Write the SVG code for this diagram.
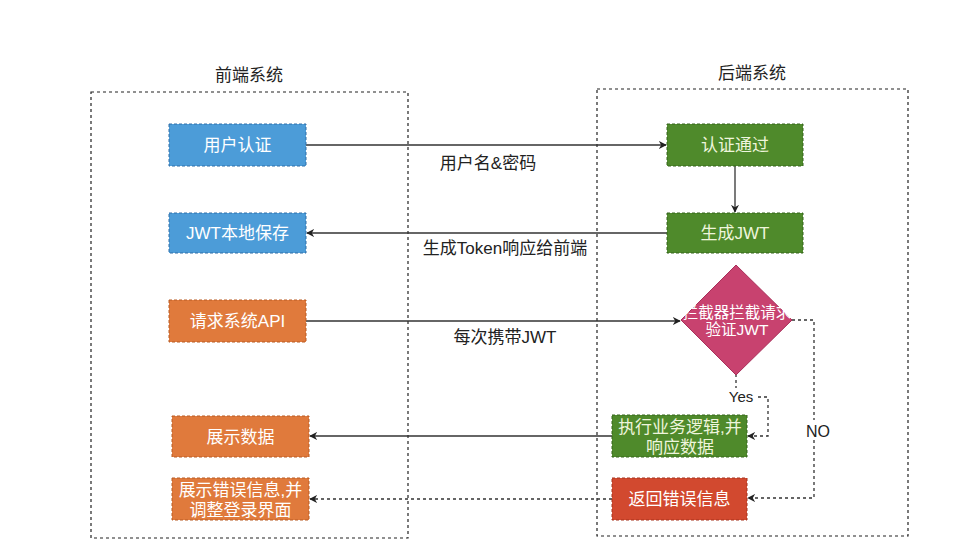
<svg xmlns="http://www.w3.org/2000/svg" width="953" height="545" viewBox="0 0 953 545">
<defs>
<style>
text{font-family:"Liberation Sans","Noto Sans CJK SC",sans-serif;}
.cont{fill:none;stroke:#222;stroke-width:1.2;stroke-dasharray:3 3;}
.title{font-size:17px;fill:#222;text-anchor:middle;}
.nt{font-size:17px;fill:#fff;text-anchor:middle;}
.gt{font-size:17px;fill:#eef5dc;text-anchor:middle;}
.blue{fill:#4c9cd8;stroke:#2f6fa8;stroke-dasharray:3 2;}
.orange{fill:#e07a3c;stroke:#b85a22;stroke-dasharray:3 2;}
.green{fill:#4f8a2b;stroke:#35651b;stroke-dasharray:3 2;}
.red{fill:#d2492f;stroke:#a5321c;stroke-dasharray:3 2;}
.pink{fill:#c8426f;stroke:#a8305a;}
.ln{fill:none;stroke:#333;stroke-width:1.3;}
.dl{fill:none;stroke:#333;stroke-width:1.3;stroke-dasharray:3 3;}
.lbl{font-size:17px;fill:#222;text-anchor:middle;}
</style>
<marker id="ah" viewBox="0 0 10 10" refX="9" refY="5" markerWidth="8" markerHeight="8" orient="auto" markerUnits="userSpaceOnUse">
<path d="M0,0 L10,5 L0,10 L3,5 Z" fill="#222"/>
</marker>
</defs>
<rect width="953" height="545" fill="#fff"/>
<g id="frontend">
<rect class="cont" x="91" y="92" width="317" height="446"/>
<text class="title" x="249" y="81">前端系统</text>
</g>
<g id="backend">
<rect class="cont" x="597" y="89" width="311" height="447"/>
<text class="title" x="752" y="79">后端系统</text>
</g>
<g id="connectors">
<line class="ln" x1="306" y1="145" x2="666" y2="145" marker-end="url(#ah)"/>
<text class="lbl" x="488" y="169">用户名&amp;密码</text>
<line class="ln" x1="735" y1="166" x2="735" y2="212" marker-end="url(#ah)"/>
<line class="ln" x1="667" y1="233" x2="307" y2="233" marker-end="url(#ah)"/>
<text class="lbl" x="505" y="254">生成Token响应给前端</text>
<line class="ln" x1="306" y1="321" x2="680" y2="321" marker-end="url(#ah)"/>
<text class="lbl" x="505" y="343">每次携带JWT</text>
<polyline class="dl" points="736,374 736,388"/>
<polyline class="dl" points="758,397 768,397 768,436 748,436" marker-end="url(#ah)"/>
<text x="741" y="402" font-size="15" fill="#222" text-anchor="middle">Yes</text>
<polyline class="dl" points="792,320 814,320 814,420"/>
<polyline class="dl" points="814,440 814,498 748,498" marker-end="url(#ah)"/>
<text x="818" y="437" font-size="16" fill="#222" text-anchor="middle">NO</text>
<line class="ln" x1="612" y1="436" x2="310" y2="436" marker-end="url(#ah)"/>
<line class="dl" x1="612" y1="499" x2="310" y2="499" marker-end="url(#ah)"/>
</g>
<g id="n-auth">
<rect class="blue" x="169" y="124" width="137" height="42"/>
<text class="nt" x="237.5" y="151">用户认证</text>
</g>
<g id="n-save">
<rect class="blue" x="169" y="213" width="137" height="40"/>
<text class="nt" x="237.5" y="239">JWT本地保存</text>
</g>
<g id="n-api">
<rect class="orange" x="169" y="300" width="137" height="42"/>
<text class="nt" x="237.5" y="327">请求系统API</text>
</g>
<g id="n-show">
<rect class="orange" x="172" y="416" width="137" height="41"/>
<text class="nt" x="240.5" y="443">展示数据</text>
</g>
<g id="n-showerr">
<rect class="orange" x="172" y="478" width="137" height="42"/>
<text class="nt" x="240.5" y="496">展示错误信息,并</text>
<text class="nt" x="240.5" y="516">调整登录界面</text>
</g>
<g id="n-pass">
<rect class="green" x="667" y="124" width="136" height="42"/>
<text class="gt" x="735" y="151">认证通过</text>
</g>
<g id="n-gen">
<rect class="green" x="667" y="213" width="136" height="40"/>
<text class="gt" x="735" y="239">生成JWT</text>
</g>
<g id="n-check">
<polygon class="pink" points="736,265 792,320 736,375 681,320"/>
<text x="737" y="318" font-size="15.5" fill="#fff" text-anchor="middle">拦截器拦截请求</text>
<text x="737" y="335" font-size="15.5" fill="#fff" text-anchor="middle">验证JWT</text>
</g>
<g id="n-exec">
<rect class="green" x="612" y="415" width="135" height="42"/>
<text class="gt" x="680" y="433">执行业务逻辑,并</text>
<text class="gt" x="680" y="453">响应数据</text>
</g>
<g id="n-err">
<rect class="red" x="612" y="478" width="135" height="42"/>
<text class="nt" x="679.5" y="505">返回错误信息</text>
</g>
</svg>
